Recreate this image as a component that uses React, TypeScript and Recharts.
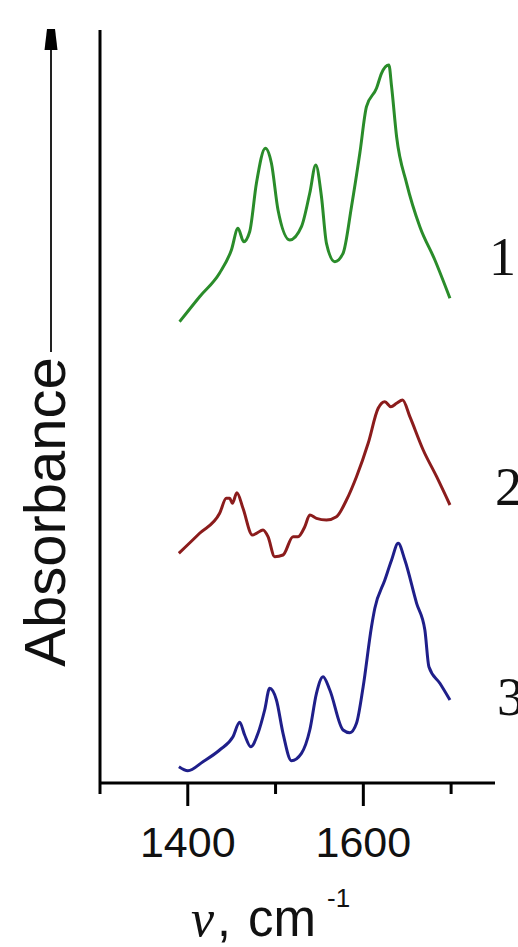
import React from 'react';
import { LineChart, Line, XAxis, YAxis, Label, LabelList } from 'recharts';

// Spectrum 1 (green)
const nu1 = [1390.7, 1413.5, 1436.3, 1449.7, 1457.2, 1463.7, 1470.5, 1478.2, 1488.4, 1495.3, 1502.8, 1516.2, 1529.5, 1539.0, 1545.8, 1552.3, 1558.0, 1567.5, 1576.9, 1586.5, 1596.0, 1603.6, 1615.0, 1620.7, 1629.1, 1632.2, 1637.9, 1649.3, 1664.4, 1681.5, 1698.7];
const abs1 = [4.613, 4.863, 5.1, 5.33, 5.547, 5.413, 5.513, 5.997, 6.347, 6.197, 5.73, 5.43, 5.563, 5.9, 6.18, 5.863, 5.397, 5.213, 5.297, 5.763, 6.297, 6.763, 6.947, 7.097, 7.18, 6.963, 6.463, 5.997, 5.563, 5.23, 4.847];

// Spectrum 2 (dark red)
const nu2 = [1389.9, 1413.5, 1436.3, 1443.9, 1447.7, 1450.8, 1456.0, 1462.9, 1473.6, 1478.2, 1485.7, 1491.4, 1499.0, 1508.5, 1519.9, 1525.6, 1533.3, 1539.0, 1546.6, 1558.0, 1569.4, 1580.8, 1592.2, 1605.5, 1616.9, 1624.5, 1631.4, 1637.9, 1644.7, 1653.0, 1668.2, 1683.5, 1698.7];
const abs2 = [2.297, 2.497, 2.697, 2.847, 2.847, 2.797, 2.903, 2.747, 2.48, 2.497, 2.53, 2.463, 2.263, 2.28, 2.463, 2.463, 2.563, 2.68, 2.647, 2.63, 2.663, 2.83, 3.063, 3.397, 3.747, 3.813, 3.763, 3.797, 3.83, 3.663, 3.33, 3.063, 2.78];

// Spectrum 3 (navy)
const nu3 = [1389.9, 1400.1, 1417.3, 1436.3, 1451.5, 1459.1, 1464.8, 1471.7, 1480.0, 1487.6, 1493.3, 1501.0, 1508.5, 1518.1, 1529.5, 1539.0, 1546.6, 1554.1, 1561.8, 1576.9, 1584.6, 1592.2, 1599.8, 1609.3, 1613.1, 1624.5, 1632.2, 1639.7, 1647.3, 1660.7, 1670.1, 1674.7, 1687.2, 1698.7];
const abs3 = [0.163, 0.123, 0.213, 0.33, 0.463, 0.607, 0.48, 0.363, 0.497, 0.73, 0.947, 0.83, 0.497, 0.223, 0.297, 0.53, 0.897, 1.063, 0.93, 0.53, 0.503, 0.597, 0.963, 1.563, 1.747, 2.03, 2.23, 2.397, 2.23, 1.797, 1.53, 1.163, 0.997, 0.83];

const xTicks = [1300, 1400, 1500, 1600, 1700];
const labeledTicks = [1400, 1600];
const curveLabels = ['1', '2', '3'];

const zip = (nu: number[], a: number[]) => nu.map((x, i) => ({ x, a: a[i] }));
const data1 = zip(nu1, abs1);
const data2 = zip(nu2, abs2);
const data3 = zip(nu3, abs3);

const SANS = '"Liberation Sans", Arial, sans-serif';
const SERIF = '"Liberation Serif", "Times New Roman", serif';

function XTick(props: any) {
  const { x, y, payload } = props;
  const major = labeledTicks.includes(payload.value);
  return (
    <g>
      <line x1={x} x2={x} y1={y} y2={y + (major ? 23 : 11)} stroke="#000" strokeWidth={3} />
      {major && (
        <text x={x} y={y + 74} textAnchor="middle" fontFamily={SANS} fontSize={43} fill="#111">
          {payload.value}
        </text>
      )}
    </g>
  );
}

const endLabel = (text: string, n: number, lastVal: number, dx: number, dy: number) => (props: any) => {
  const isLast = props.index === n - 1 || (props.index == null && props.value === lastVal);
  if (!isLast) return <g />;
  const x = props.x ?? props.viewBox?.x;
  const y = props.y ?? props.viewBox?.y;
  return (
    <text x={x + dx} y={y + dy} fontFamily={SERIF} fontSize={54} fill="#111">
      {text}
    </text>
  );
};

const YTitle = (props: any) => {
  const vb = props.viewBox || { x: 0, y: 30, width: 100, height: 753 };
  const left = vb.x;
  const top = vb.y;
  const bx = left + 65;
  const cy = top + 482;
  const ax = left + 51;
  return (
    <g>
      <text
        x={bx}
        y={cy}
        transform={`rotate(-90 ${bx} ${cy})`}
        textAnchor="middle"
        fontFamily={SANS}
        fontSize={58}
        fill="#111"
      >
        Absorbance
      </text>
      <line x1={ax} x2={ax} y1={top + 322} y2={top + 18} stroke="#222" strokeWidth={2} />
      <polygon
        points={`${ax - 6.5},${top + 20} ${ax + 6.5},${top + 20} ${ax + 4},${top - 1} ${ax - 4},${top - 1}`}
        fill="#000"
      />
    </g>
  );
};

const XTitle = (props: any) => {
  const vb = props.viewBox || { x: 100, y: 783, width: 395, height: 164 };
  const left = vb.x;
  const top = vb.y;
  return (
    <g fill="#111">
      <text x={left + 91} y={top + 153} fontFamily={SERIF} fontStyle="italic" fontSize={52}>
        ν
      </text>
      <text x={left + 117} y={top + 153} fontFamily={SANS} fontSize={50}>
        ,
      </text>
      <text x={left + 148} y={top + 153} fontFamily={SANS} fontSize={51}>
        cm
      </text>
      <text x={left + 227} y={top + 124} fontFamily={SANS} fontSize={26}>
        -1
      </text>
    </g>
  );
};

export default function App() {
  return (
    <div style={{ position: 'absolute', left: 0, top: 0, width: 518, height: 947, background: '#fff' }}>
      <LineChart width={518} height={947} margin={{ top: 30, right: 23, bottom: 0, left: 0 }}>
        <XAxis
          type="number"
          dataKey="x"
          domain={[1300, 1750]}
          ticks={xTicks}
          interval={0}
          height={164}
          tickSize={0}
          tickMargin={0}
          tickLine={false}
          tick={<XTick />}
          axisLine={{ stroke: '#000', strokeWidth: 3 }}
          allowDataOverflow
        >
          <Label content={<XTitle />} />
        </XAxis>
        <YAxis
          type="number"
          dataKey="a"
          domain={[0, 7.53]}
          width={100}
          tick={false}
          tickLine={false}
          axisLine={{ stroke: '#000', strokeWidth: 3 }}
          allowDataOverflow
        >
          <Label content={<YTitle />} />
        </YAxis>
        <Line data={data1} dataKey="a" type="monotone" stroke="#2a8c2a" strokeWidth={3} dot={false} isAnimationActive={false}>
          <LabelList dataKey="a" content={endLabel(curveLabels[0], data1.length, abs1[abs1.length - 1], 39, -23)} />
        </Line>
        <Line data={data2} dataKey="a" type="monotone" stroke="#8b1c1c" strokeWidth={3} dot={false} isAnimationActive={false}>
          <LabelList dataKey="a" content={endLabel(curveLabels[1], data2.length, abs2[abs2.length - 1], 45, 0)} />
        </Line>
        <Line data={data3} dataKey="a" type="monotone" stroke="#1f1f8a" strokeWidth={3} dot={false} isAnimationActive={false}>
          <LabelList dataKey="a" content={endLabel(curveLabels[2], data3.length, abs3[abs3.length - 1], 47, 15)} />
        </Line>
      </LineChart>
    </div>
  );
}
